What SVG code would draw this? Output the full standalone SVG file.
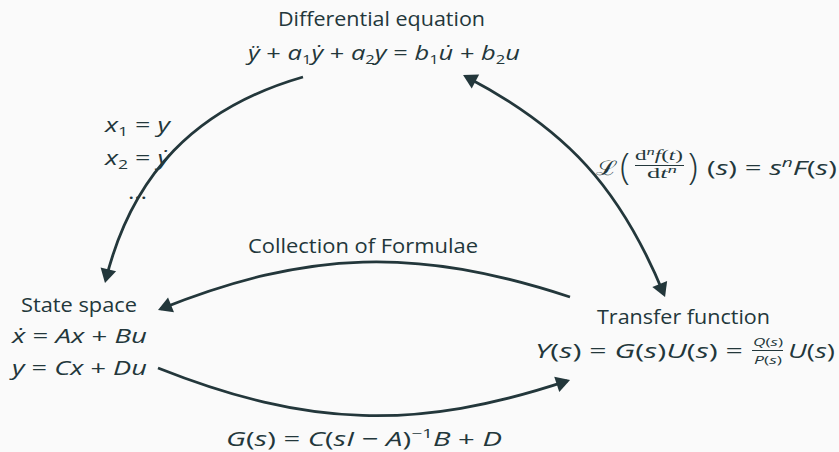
<svg xmlns="http://www.w3.org/2000/svg" width="839" height="452" viewBox="0 0 839 452">
<style>
text { font-family: "Open Sans","Noto Sans","DejaVu Sans",sans-serif; fill:#23373b; font-size:20px; }
.i { font-style: italic; }
.s { font-size: 13px; font-style: normal; }
.sr { font-family: "Liberation Serif","DejaVu Serif",serif; font-size: 14px; }
.fr { font-size: 11px; }
.big { font-size: 36px; font-weight: 300; }
.conn { fill:none; stroke:#23373b; stroke-width:2.8; }
.bar { stroke:#23373b; stroke-width:1; }
</style>
<defs>
<marker id="ah" viewBox="-13 -9 17 18" refX="0" refY="0" markerWidth="17" markerHeight="18" markerUnits="userSpaceOnUse" orient="auto-start-reverse">
<path d="M3,0 L-11,-8 L-11,8 Z" fill="#23373b"/>
</marker>
</defs>
<rect width="839" height="452" fill="#fafafa"/>

<g id="node-differential-equation">
<text x="278" y="26" textLength="207" lengthAdjust="spacingAndGlyphs">Differential equation</text>
<text x="248" y="60" textLength="272" lengthAdjust="spacingAndGlyphs"><tspan class="i">ÿ</tspan> + <tspan class="i">a</tspan><tspan class="s" dy="4">1</tspan><tspan class="i" dy="-4">ẏ</tspan> + <tspan class="i">a</tspan><tspan class="s" dy="4">2</tspan><tspan class="i" dy="-4">y</tspan> = <tspan class="i">b</tspan><tspan class="s" dy="4">1</tspan><tspan class="i" dy="-4">u̇</tspan> + <tspan class="i">b</tspan><tspan class="s" dy="4">2</tspan><tspan class="i" dy="-4">u</tspan></text>
</g>

<g id="node-state-space">
<text x="21" y="312" textLength="116" lengthAdjust="spacingAndGlyphs">State space</text>
<text x="12" y="343" textLength="135" lengthAdjust="spacingAndGlyphs"><tspan class="i">ẋ</tspan> = <tspan class="i">Ax</tspan> + <tspan class="i">Bu</tspan></text>
<text x="12" y="375" textLength="135" lengthAdjust="spacingAndGlyphs"><tspan class="i">y</tspan> = <tspan class="i">Cx</tspan> + <tspan class="i">Du</tspan></text>
</g>

<g id="node-transfer-function">
<text x="597" y="324" textLength="173" lengthAdjust="spacingAndGlyphs">Transfer function</text>
<text x="535" y="358" textLength="208" lengthAdjust="spacingAndGlyphs"><tspan class="i">Y</tspan>(<tspan class="i">s</tspan>) = <tspan class="i">G</tspan>(<tspan class="i">s</tspan>)<tspan class="i">U</tspan>(<tspan class="i">s</tspan>) =</text>
<text x="753" y="346" class="fr" textLength="30" lengthAdjust="spacingAndGlyphs"><tspan class="i">Q</tspan>(<tspan class="i">s</tspan>)</text>
<line class="bar" x1="752" y1="350.5" x2="783" y2="350.5"/>
<text x="754" y="364" class="fr" textLength="28" lengthAdjust="spacingAndGlyphs"><tspan class="i">P</tspan>(<tspan class="i">s</tspan>)</text>
<text x="788" y="358" textLength="47" lengthAdjust="spacingAndGlyphs"><tspan class="i">U</tspan>(<tspan class="i">s</tspan>)</text>
</g>

<g id="connectors">
<path id="edge-diff-to-state" class="conn" d="M303,77 C195.5,108 131.9,174.5 105.7,280.1" marker-end="url(#ah)"/>
<path id="edge-transfer-to-state" class="conn" d="M570,297 C416.8,246.7 307.7,250.1 160.8,308.9" marker-end="url(#ah)"/>
<path id="edge-state-to-transfer" class="conn" d="M158,368 C307.9,427.5 416.9,430.7 567.2,380.9" marker-end="url(#ah)"/>
<path id="edge-diff-transfer" class="conn" d="M465.7,76.4 C567,129.6 620.5,188.4 663.9,294.2" marker-start="url(#ah)" marker-end="url(#ah)"/>
</g>

<g id="edge-labels">
<g id="label-state-variables">
<text x="105" y="132" textLength="65" lengthAdjust="spacingAndGlyphs"><tspan class="i">x</tspan><tspan class="s" dy="4">1</tspan><tspan dy="-4"> = </tspan><tspan class="i">y</tspan></text>
<text x="105" y="165" textLength="65" lengthAdjust="spacingAndGlyphs"><tspan class="i">x</tspan><tspan class="s" dy="4">2</tspan><tspan dy="-4"> = </tspan><tspan class="i">ẏ</tspan></text>
<text x="128" y="199" textLength="19" lengthAdjust="spacingAndGlyphs">…</text>
</g>
<text id="label-collection" x="248" y="253" textLength="230" lengthAdjust="spacingAndGlyphs">Collection of Formulae</text>
<g id="label-laplace">
<text x="596" y="175" textLength="22" lengthAdjust="spacingAndGlyphs" style="font-family:'DejaVu Serif',serif">ℒ</text>
<text x="620" y="179" class="big">(</text>
<text x="635" y="160" class="sr" textLength="48" lengthAdjust="spacingAndGlyphs">d<tspan class="i" font-size="10" dy="-5">n</tspan><tspan class="i" dy="5">f</tspan>(<tspan class="i">t</tspan>)</text>
<line class="bar" x1="635" y1="165.5" x2="684" y2="165.5"/>
<text x="647" y="178" class="sr" textLength="30" lengthAdjust="spacingAndGlyphs">d<tspan class="i">t</tspan><tspan class="i" font-size="10" dy="-5">n</tspan></text>
<text x="688" y="179" class="big">)</text>
<text x="707" y="175" textLength="130" lengthAdjust="spacingAndGlyphs">(<tspan class="i">s</tspan>) = <tspan class="i">s</tspan><tspan class="i" font-size="13" dy="-8">n</tspan><tspan class="i" dy="8">F</tspan>(<tspan class="i">s</tspan>)</text>
</g>
<text id="label-transfer-formula" x="226" y="446" textLength="276" lengthAdjust="spacingAndGlyphs"><tspan class="i">G</tspan>(<tspan class="i">s</tspan>) = <tspan class="i">C</tspan>(<tspan class="i">sI</tspan> − <tspan class="i">A</tspan>)<tspan font-size="13" dy="-8">−1</tspan><tspan class="i" dy="8">B</tspan> + <tspan class="i">D</tspan></text>
</g>
</svg>
